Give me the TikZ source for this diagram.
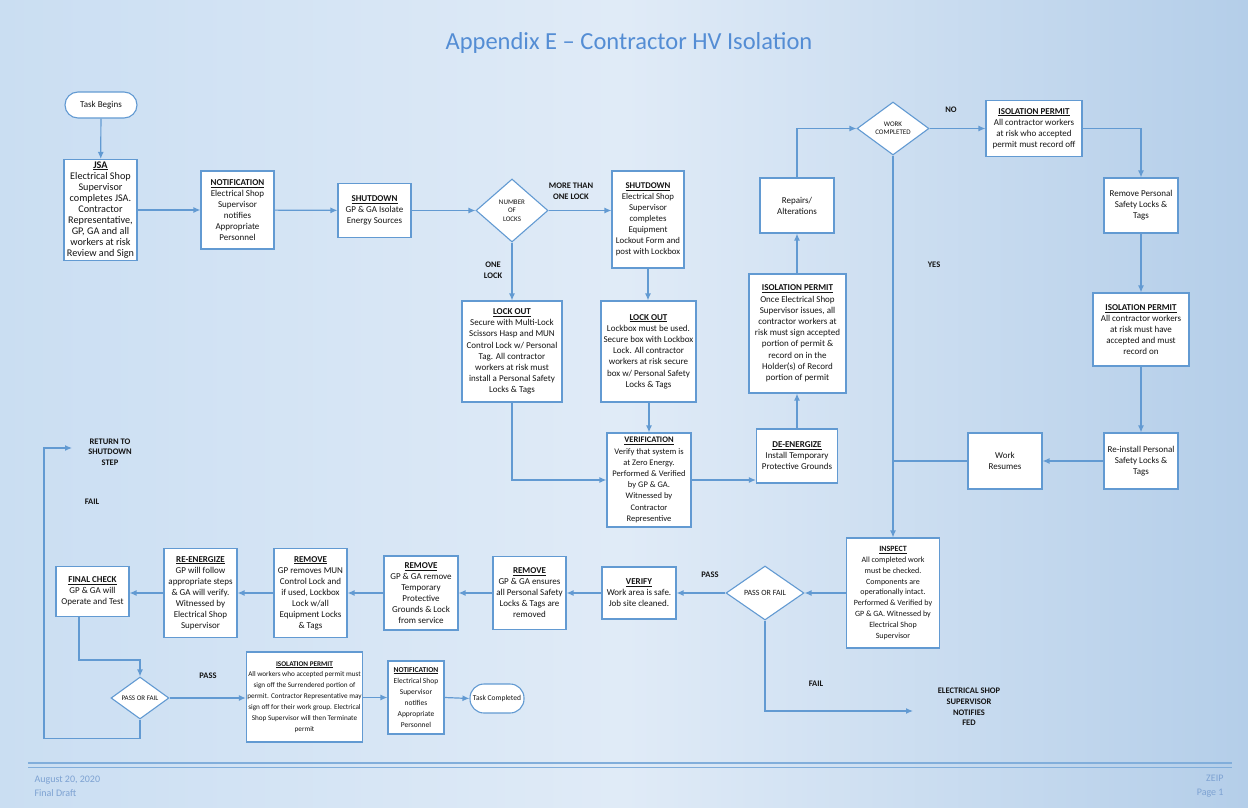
\documentclass[tikz,border=0pt]{standalone}
\usepackage{fontspec}
\setmainfont{Carlito}
\usetikzlibrary{arrows.meta,shapes.geometric,calc}
\definecolor{lineblue}{RGB}{98,154,210}
\definecolor{titleblue}{RGB}{84,141,212}
\definecolor{footblue}{RGB}{125,162,210}
\definecolor{bgL}{RGB}{202,222,242}
\definecolor{bgM}{RGB}{224,235,247}
\definecolor{bgR}{RGB}{180,206,233}
\definecolor{txt}{RGB}{20,20,20}
\newcommand{\boxhd}[1]{\underline{\textbf{#1}}}
\begin{document}
\begin{tikzpicture}[x=1pt,y=-1pt,
  box/.style={draw=lineblue, fill=white, line width=1.1pt, align=center, inner sep=1pt, text=txt, font=\fontsize{9}{11}\selectfont},
  dec/.style={diamond, draw=lineblue, fill=white, line width=1.1pt, align=center, inner sep=0pt, text=txt, font=\fontsize{7}{8.5}\selectfont},
  term/.style={box, rounded corners=13pt},
  lbl/.style={font=\bfseries\fontsize{8.5}{10.6}\selectfont, align=center, text=txt},
  arr/.style={draw=lineblue, line width=1.2pt, -{Latex[length=7pt,width=6pt]}},
  ln/.style={draw=lineblue, line width=1.2pt},
]
\useasboundingbox (0,0) rectangle (1248,808);
\shade[left color=bgL, right color=bgR, middle color=bgM] (0,0) rectangle (1248,808);

% title and footer
\node[font=\fontsize{24.5}{28}\selectfont, text=titleblue] (title) at (629,43) {Appendix E – Contractor HV Isolation};
\draw[lineblue!80, line width=1.2pt] (28,763) -- (1232,763);
\draw[lineblue!80, line width=0.6pt] (28,767) -- (1232,767);
\node[anchor=west, align=left, font=\fontsize{10}{14}\selectfont, text=footblue] (footl) at (31,786) {August 20, 2020\\Final Draft};
\node[anchor=east, align=right, font=\fontsize{10}{14}\selectfont, text=footblue] (footr) at (1227,786) {ZEIP\\Page 1};

% top flow
\node[term, minimum width=72pt, minimum height=26pt] (tb) at (101,105) {Task Begins};
\node[box, minimum width=73pt, minimum height=101pt, inner sep=0pt, font=\fontsize{10.2}{11.1}\selectfont] (jsa) at (100.5,210) {\boxhd{JSA}\\Electrical Shop\\Supervisor\\completes JSA.\\Contractor\\Representative,\\GP, GA and all\\workers at risk\\Review and Sign};
\node[box, minimum width=73pt, minimum height=78pt] (not1) at (237.5,210) {\boxhd{NOTIFICATION}\\Electrical Shop\\Supervisor\\notifies\\Appropriate\\Personnel};
\node[box, minimum width=73pt, minimum height=54pt] (sd1) at (374.5,210.5) {\boxhd{SHUTDOWN}\\GP \& GA Isolate\\Energy Sources};
\node[dec, minimum width=72pt, minimum height=63pt] (nl) at (512,210.5) {NUMBER\\OF\\LOCKS};
\node[box, minimum width=72pt, minimum height=97pt, font=\fontsize{8.8}{11}\selectfont] (sd2) at (648,219.5) {\boxhd{SHUTDOWN}\\Electrical Shop\\Supervisor\\completes\\Equipment\\Lockout Form and\\post with Lockbox};
\node[box, minimum width=100pt, minimum height=101pt, font=\fontsize{9}{11.2}\selectfont] (lo1) at (512,351.5) {\boxhd{LOCK OUT}\\Secure with Multi-Lock\\Scissors Hasp and MUN\\Control Lock w/ Personal\\Tag. All contractor\\workers at risk must\\install a Personal Safety\\Locks \& Tags};
\node[box, minimum width=95pt, minimum height=101pt, font=\fontsize{9}{11.2}\selectfont] (lo2) at (648.5,351.5) {\boxhd{LOCK OUT}\\Lockbox must be used.\\Secure box with Lockbox\\Lock. All contractor\\workers at risk secure\\box w/ Personal Safety\\Locks \& Tags};
\node[box, minimum width=84pt, minimum height=94pt, font=\fontsize{8.5}{11.2}\selectfont] (ver) at (649,480) {\boxhd{VERIFICATION}\\Verify that system is\\at Zero Energy.\\Performed \& Verified\\by GP \& GA.\\Witnessed by\\Contractor\\Representive};
\node[box, minimum width=81pt, minimum height=54pt] (de) at (797,456) {\boxhd{DE-ENERGIZE}\\Install Temporary\\Protective Grounds};
\node[box, minimum width=97pt, minimum height=119pt, font=\fontsize{9}{11.2}\selectfont] (ip1) at (797.5,333.5) {\boxhd{ISOLATION PERMIT}\\Once Electrical Shop\\Supervisor issues, all\\contractor workers at\\risk must sign accepted\\portion of permit \&\\record on in the\\Holder(s) of Record\\portion of permit};
\node[box, minimum width=74pt, minimum height=55pt] (rep) at (797,205.5) {Repairs/\\Alterations};
\node[dec, minimum width=72pt, minimum height=53pt] (wc) at (893,128.5) {WORK\\COMPLETED};
\node[box, minimum width=96pt, minimum height=56pt] (ip2) at (1034,128.5) {\boxhd{ISOLATION PERMIT}\\All contractor workers\\at risk who accepted\\permit must record off};
\node[box, minimum width=74pt, minimum height=55pt] (rmv) at (1141,205.5) {Remove Personal\\Safety Locks \&\\Tags};
\node[box, minimum width=96pt, minimum height=73pt] (ip3) at (1141,329.5) {\boxhd{ISOLATION PERMIT}\\All contractor workers\\at risk must have\\accepted and must\\record on};
\node[box, minimum width=74pt, minimum height=56pt] (rei) at (1141,461) {Re-install Personal\\Safety Locks \&\\Tags};
\node[box, minimum width=74pt, minimum height=56pt] (wr) at (1005,461) {Work\\Resumes};

% bottom flow
\node[box, minimum width=93pt, minimum height=110pt, font=\fontsize{8}{10.9}\selectfont] (insp) at (893,593) {\boxhd{INSPECT}\\All completed work\\must be checked.\\Components are\\operationally intact.\\Performed \& Verified by\\GP \& GA. Witnessed by\\Electrical Shop\\Supervisor};
\node[dec, minimum width=78pt, minimum height=54pt, font=\fontsize{8}{9}\selectfont] (pf1) at (765,593) {PASS OR FAIL};
\node[box, minimum width=74pt, minimum height=52pt] (vfy) at (639,593) {\boxhd{VERIFY}\\Work area is safe.\\Job site cleaned.};
\node[box, minimum width=73pt, minimum height=73pt] (rm3) at (529.5,593) {\boxhd{REMOVE}\\GP \& GA ensures\\all Personal Safety\\Locks \& Tags are\\removed};
\node[box, minimum width=74pt, minimum height=74pt] (rm2) at (421,593) {\boxhd{REMOVE}\\GP \& GA remove\\Temporary\\Protective\\Grounds \& Lock\\from service};
\node[box, minimum width=73pt, minimum height=89pt] (rm1) at (310.5,593) {\boxhd{REMOVE}\\GP removes MUN\\Control Lock and\\if used, Lockbox\\Lock w/all\\Equipment Locks\\\& Tags};
\node[box, minimum width=73pt, minimum height=89pt] (ren) at (200.5,593) {\boxhd{RE-ENERGIZE}\\GP will follow\\appropriate steps\\\& GA will verify.\\Witnessed by\\Electrical Shop\\Supervisor};
\node[box, minimum width=73pt, minimum height=50pt] (fc) at (92.5,591.5) {\boxhd{FINAL CHECK}\\GP \& GA will\\Operate and Test};
\node[dec, minimum width=58pt, minimum height=42pt] (pf2) at (140,698) {PASS OR FAIL};
\node[box, minimum width=113pt, minimum height=90pt, font=\fontsize{7.2}{10.9}\selectfont] (ip4) at (304.5,697) {\boxhd{ISOLATION PERMIT}\\All workers who accepted permit must\\sign off the Surrendered portion of\\permit. Contractor Representative may\\sign off for their work group. Electrical\\Shop Supervisor will then Terminate\\permit};
\node[box, minimum width=56pt, minimum height=73pt, font=\fontsize{7.5}{11.1}\selectfont] (not2) at (416,697.5) {\boxhd{NOTIFICATION}\\Electrical Shop\\Supervisor\\notifies\\Appropriate\\Personnel};
\node[term, minimum width=54pt, minimum height=29pt, rounded corners=14pt, font=\fontsize{7.5}{9}\selectfont] (tc) at (497,698.5) {Task Completed};

% labels
\node[lbl] (lmore) at (571,191) {MORE THAN\\ONE LOCK};
\node[lbl] (lone) at (493,270) {ONE\\LOCK};
\node[lbl] (lno) at (951,110) {NO};
\node[lbl] (lyes) at (934,265) {YES};
\node[lbl] (lpass1) at (710,575) {PASS};
\node[lbl] (lfail1) at (816,684) {FAIL};
\node[lbl] (lfed) at (969,707) {ELECTRICAL SHOP\\SUPERVISOR\\NOTIFIES\\FED};
\node[lbl] (lpass2) at (208,676) {PASS};
\node[lbl] (lfail2) at (92,502) {FAIL};
\node[lbl] (lret) at (110,452) {RETURN TO\\SHUTDOWN\\STEP};

% free-end coordinates
\coordinate (retc) at (44,448);
\coordinate (retpt) at (72,448);
\coordinate (fedpt) at (913,711);
\path (fc.south) ++(-13.5,0) coordinate (fcout);

% connectors
\draw[arr] (tb) -- (jsa);
\draw[arr] (jsa) -- (not1);
\draw[arr] (not1) -- (sd1);
\draw[arr] (sd1) -- (nl);
\draw[arr] (nl.east) -- (nl.east -| sd2.west);
\draw[arr] (nl.south) -- (lo1.north);
\draw[arr] (sd2.south) -- (sd2.south |- lo2.north);
\draw[arr] (lo1.south) |- (ver.west);
\draw[arr] (lo2.south -| ver.north) -- (ver.north);
\draw[arr] (ver.east) -- (ver.east -| de.west);
\draw[arr] (de.north) -- (de.north |- ip1.south);
\draw[arr] (ip1.north -| rep.south) -- (rep.south);
\draw[arr] (rep.north) |- (wc.west);
\draw[arr] (wc.east) -- (ip2.west);
\draw[arr] (ip2.east) -| (rmv.north);
\draw[arr] (rmv.south) -- (ip3.north);
\draw[arr] (ip3.south) -- (rei.north);
\draw[arr] (rei.west) -- (wr.east);
\draw[ln] (wr.west) -- (wr.west -| wc.south);
\draw[arr] (wc.south) -- (insp.north);
\draw[arr] (insp.west) -- (pf1.east);
\draw[arr] (pf1.west) -- (vfy.east);
\draw[arr] (pf1.south) |- (fedpt);
\draw[arr] (vfy.west) -- (rm3.east);
\draw[arr] (rm3.west) -- (rm2.east);
\draw[arr] (rm2.west) -- (rm1.east);
\draw[arr] (rm1.west) -- (ren.east);
\draw[arr] (ren.west) -- (ren.west -| fc.east);
\draw[arr] (fcout) -- ++(0,43) -| (pf2.north);
\draw[arr] (pf2.east) -- (pf2.east -| ip4.west);
\draw[arr] (ip4.east |- not2.west) -- (not2.west);
\draw[arr] (not2.east) -- (tc.west);
\draw[arr] (pf2.south) -- ++(0,19) -| (retc) -- (retpt);
\end{tikzpicture}
\end{document}
